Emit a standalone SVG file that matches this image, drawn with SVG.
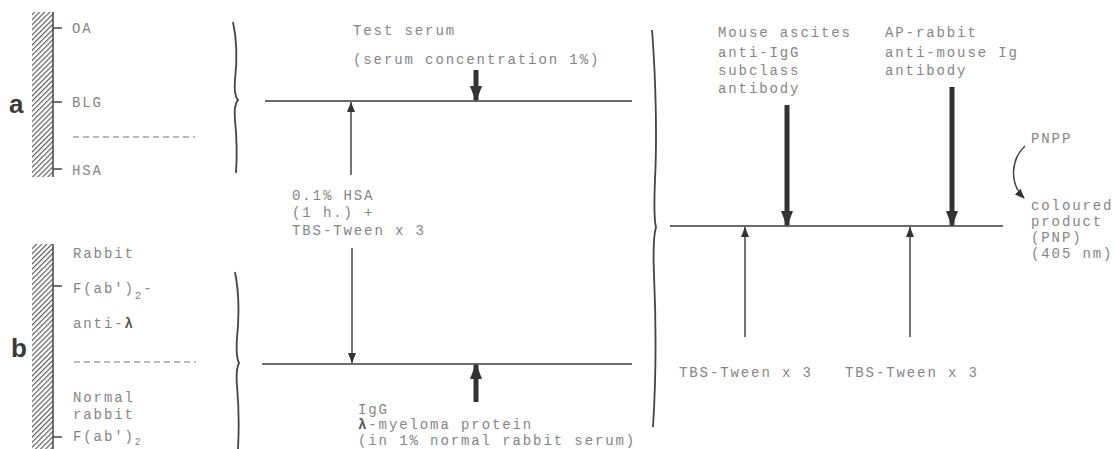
<svg xmlns="http://www.w3.org/2000/svg" width="1115" height="449" viewBox="0 0 1115 449">
<style>
.t{font-family:"Liberation Mono","DejaVu Sans Mono",monospace;font-size:14px;letter-spacing:1.9px;fill:#858585}
.lbl{font-family:"Liberation Sans",Arial,sans-serif;font-size:26px;font-weight:bold;fill:#3a3a3a}
.ln{stroke:#3a3a3a;stroke-width:1.3;fill:none}
.dash{stroke:#777;stroke-width:1.2;stroke-dasharray:6,4;fill:none}
.brace{stroke:#444;stroke-width:1.8;fill:none}
.thick{stroke:#333;stroke-width:5;fill:none}
.thin{stroke:#444;stroke-width:1.5;fill:none}
.tick{stroke:#444;stroke-width:1.5}
.b{font-weight:bold;fill:#555}
</style>
<defs>
<pattern id="hatch" width="3.6" height="3.6" patternUnits="userSpaceOnUse" patternTransform="rotate(45)">
<rect width="3.6" height="3.6" fill="#fff"/>
<line x1="0" y1="0" x2="0" y2="3.6" stroke="#555" stroke-width="2.2"/>
</pattern>
<marker id="hThick" viewBox="0 0 16 12" refX="14" refY="6" markerWidth="16" markerHeight="12" markerUnits="userSpaceOnUse" orient="auto">
<path d="M0,0 L16,6 L0,12 Z" fill="#333"/>
</marker>
<marker id="hThin" viewBox="0 0 10 8" refX="10" refY="4" markerWidth="10" markerHeight="8" markerUnits="userSpaceOnUse" orient="auto">
<path d="M0,0 L10,4 L0,8 Z" fill="#333"/>
</marker>
<marker id="hCurve" viewBox="0 0 10 8" refX="9" refY="4" markerWidth="10" markerHeight="8" markerUnits="userSpaceOnUse" orient="auto">
<path d="M0,0 L10,4 L0,8 Z" fill="#333"/>
</marker>
</defs>
<rect width="1115" height="449" fill="#fff"/>

<g id="panel-a">
<text class="lbl" x="9" y="113">a</text>
<rect x="32" y="12" width="21" height="165" fill="url(#hatch)"/>
<line class="tick" x1="53" y1="12" x2="53" y2="177"/>
<line class="tick" x1="53" y1="28" x2="62" y2="28"/>
<line class="tick" x1="53" y1="102" x2="62" y2="102"/>
<line class="tick" x1="53" y1="169" x2="62" y2="169"/>
<text class="t" x="72" y="33">OA</text>
<text class="t" x="72" y="107">BLG</text>
<line class="dash" x1="73" y1="137" x2="195" y2="137"/>
<text class="t" x="72" y="175">HSA</text>
<path class="brace" d="M233,22 C237,40 237,62 235,80 C234,92 235,97 238,100 C235,103 234,108 235,120 C237,140 237,158 236,173"/>
</g>

<g id="panel-b">
<text class="lbl" x="11" y="357">b</text>
<rect x="32" y="244" width="21" height="205" fill="url(#hatch)"/>
<line class="tick" x1="53" y1="244" x2="53" y2="449"/>
<line class="tick" x1="53" y1="286" x2="62" y2="286"/>
<line class="tick" x1="53" y1="437" x2="62" y2="437"/>
<text class="t" x="73" y="258">Rabbit</text>
<text class="t" x="73" y="293">F(ab')<tspan font-size="11" dy="6">2</tspan><tspan dy="-6">-</tspan></text>
<text class="t" x="73" y="328">anti-<tspan class="b">λ</tspan></text>
<line class="dash" x1="74" y1="362" x2="196" y2="362"/>
<text class="t" x="73" y="402">Normal</text>
<text class="t" x="73" y="419">rabbit</text>
<text class="t" x="73" y="441">F(ab')<tspan font-size="10" dy="4">2</tspan></text>
<path class="brace" d="M235,272 C239,292 239,318 237,338 C236,352 237,359 239,363 C237,367 236,374 237,386 C239,408 239,430 238,449"/>
</g>

<g id="step-middle">
<line class="ln" x1="265" y1="101" x2="632" y2="101"/>
<line class="ln" x1="262" y1="364" x2="632" y2="364"/>
<text class="t" x="353" y="35">Test serum</text>
<text class="t" x="353" y="64">(serum concentration 1%)</text>
<text class="t" x="292" y="200">0.1% HSA</text>
<text class="t" x="292" y="217">(1 h.) +</text>
<text class="t" x="292" y="235">TBS-Tween x 3</text>
<text class="t" x="358" y="414">IgG</text>
<text class="t" x="358" y="429"><tspan class="b">λ</tspan>-myeloma protein</text>
<text class="t" x="358" y="445">(in 1% normal rabbit serum)</text>
<path class="brace" d="M652,30 C656,80 657,140 655,180 C654,205 654,220 656,227 C654,234 653,250 654,275 C656,320 656,380 653,427"/>
</g>

<g id="step-right">
<line class="ln" x1="670" y1="226" x2="1003" y2="226"/>
<text class="t" x="718" y="37">Mouse ascites</text>
<text class="t" x="718" y="57">anti-IgG</text>
<text class="t" x="718" y="75">subclass</text>
<text class="t" x="718" y="93">antibody</text>
<text class="t" x="885" y="37">AP-rabbit</text>
<text class="t" x="885" y="57">anti-mouse Ig</text>
<text class="t" x="885" y="75">antibody</text>
<text class="t" x="679" y="377">TBS-Tween x 3</text>
<text class="t" x="845" y="377">TBS-Tween x 3</text>
</g>

<g id="product">
<text class="t" x="1031" y="143">PNPP</text>
<text class="t" x="1031" y="210">coloured</text>
<text class="t" x="1031" y="226">product</text>
<text class="t" x="1031" y="242">(PNP)</text>
<text class="t" x="1031" y="258">(405 nm)</text>
</g>

<g id="connectors">
<line class="thick" x1="476" y1="70" x2="476" y2="100" marker-end="url(#hThick)"/>
<line class="thin" x1="351" y1="175" x2="351" y2="102" marker-end="url(#hThin)"/>
<line class="thin" x1="352" y1="248" x2="352" y2="363" marker-end="url(#hThin)"/>
<line class="thick" x1="476" y1="402" x2="476" y2="365" marker-end="url(#hThick)"/>
<line class="thick" x1="787" y1="105" x2="787" y2="225" marker-end="url(#hThick)"/>
<line class="thick" x1="952" y1="87" x2="952" y2="225" marker-end="url(#hThick)"/>
<line class="thin" x1="745" y1="337" x2="745" y2="227" marker-end="url(#hThin)"/>
<line class="thin" x1="910" y1="337" x2="910" y2="227" marker-end="url(#hThin)"/>
<path class="thin" d="M1025,146 C1012,158 1008,182 1024,198" marker-end="url(#hCurve)"/>
</g>
</svg>
